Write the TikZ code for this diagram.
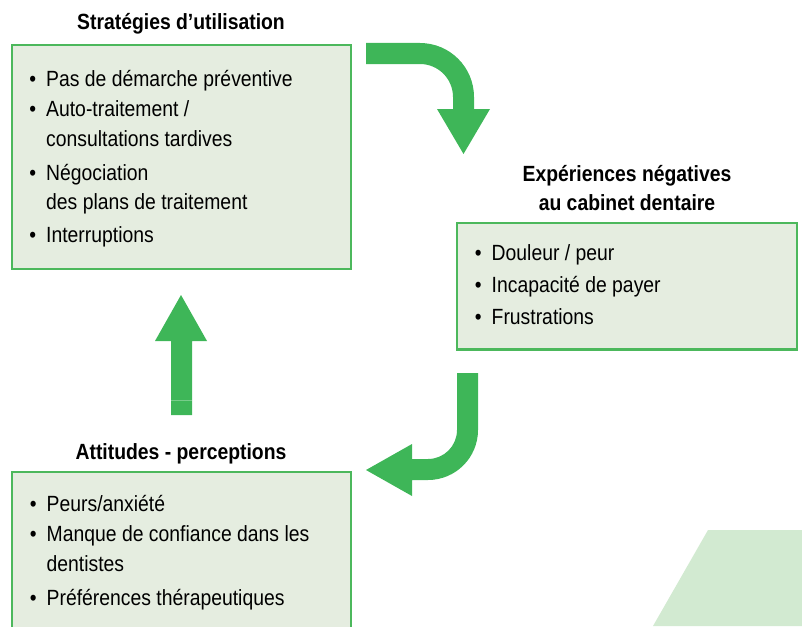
\documentclass[tikz,border=0pt]{standalone}
\usepackage{fontspec}
\setmainfont[FakeStretch=0.88]{Liberation Sans}
\definecolor{arrowgreen}{RGB}{62,182,88}
\definecolor{boxline}{RGB}{76,184,92}
\definecolor{boxfill}{RGB}{229,237,224}
\definecolor{paper}{RGB}{210,234,209}
\newcommand{\bul}{\llap{\textbullet\hspace{10pt}}}
\begin{document}
\begin{tikzpicture}[x=1pt,y=-1pt,
  panel/.style={draw=boxline, line width=2.6pt, fill=boxfill},
  title/.style={font=\fontsize{22}{28}\selectfont\bfseries, inner sep=0pt, anchor=base, align=center},
  entry/.style={font=\fontsize{22}{29}\selectfont, inner sep=0pt, anchor=base west},
  bigarrow/.style={fill=arrowgreen, draw=none}]
\useasboundingbox (0,0) rectangle (802,626);

% textured paper corner, bottom right
\fill[paper] (708,530) -- (802,530) -- (802,626) -- (653,626) -- cycle;

% panels
\draw[panel] (12,45) rectangle (351,269) coordinate (p1);
\draw[panel] (457,223) rectangle (797,349.5) coordinate (p2);
\draw[panel] (12,472) rectangle (351,640) coordinate (p3);

% headings
\node[title] (t1) at (181,30) {Stratégies d’utilisation};
\node[title] (t2a) at (627,181.5) {Expériences négatives};
\node[title] (t2b) at (627,210) {au cabinet dentaire};
\node[title] (t3) at (181,459.5) {Attitudes - perceptions};

% entries of the first panel
\node[entry] (a1) at (46,86.5) {\bul Pas de démarche préventive};
\node[entry] (a2) at (46,116.5) {\bul Auto-traitement /};
\node[entry] (a2b) at (46,146) {consultations tardives};
\node[entry] (a3) at (46,180) {\bul Négociation};
\node[entry] (a3b) at (46,209.5) {des plans de traitement};
\node[entry] (a4) at (46,242.5) {\bul Interruptions};

% entries of the second panel
\node[entry] (b1) at (491.5,260) {\bul Douleur / peur};
\node[entry] (b2) at (491.5,292.5) {\bul Incapacité de payer};
\node[entry] (b3) at (491.5,324) {\bul Frustrations};

% entries of the third panel
\node[entry] (c1) at (46.5,511.5) {\bul Peurs/anxiété};
\node[entry] (c2) at (46.5,541.5) {\bul Manque de confiance dans les};
\node[entry] (c2b) at (46.5,571) {dentistes};
\node[entry] (c3) at (46.5,605) {\bul Préférences thérapeutiques};

% curved arrow: strategies -> experiences
\fill[bigarrow] (366,43) -- (420,43) arc[start angle=-90, end angle=0, radius=54]
  -- (474,109) -- (490,109) -- (463.5,154) -- (437,109) -- (453,109) -- (453,97)
  arc[start angle=0, end angle=-90, radius=33] -- (366,64) -- cycle;

% curved arrow: experiences -> attitudes
\fill[bigarrow] (457,373) -- (478,373) -- (478,430) arc[start angle=0, end angle=90, radius=50]
  -- (412,480) -- (412,496) -- (366,470) -- (412,444) -- (412,459) -- (428,459)
  arc[start angle=90, end angle=0, radius=29] -- cycle;

% straight arrow: attitudes -> strategies
\fill[bigarrow] (171,415) -- (171,341) -- (155,341) -- (181,295) -- (207,341) -- (192,341) -- (192,415) -- cycle;
\draw[arrowgreen!70!white, line width=0.6pt] (171,400) -- (192,400);
\end{tikzpicture}
\end{document}
